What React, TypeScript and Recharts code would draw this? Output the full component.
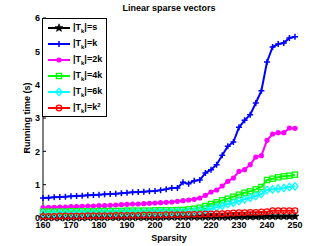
import React from 'react';
import { LineChart, Line, XAxis, YAxis, Label } from 'recharts';

const sparsity = [
  160, 162, 164, 166, 168, 170, 172, 174, 176, 178, 180, 182, 184, 186, 188, 190,
  192, 194, 196, 198, 200, 202, 204, 206, 208, 210, 212, 214, 216, 218, 220, 222,
  224, 226, 228, 230, 232, 234, 236, 238, 240, 242, 244, 246, 248, 250,
];

// |T_k| = s
const timeS = [
  0.01, 0.01, 0.01, 0.01, 0.01, 0.01, 0.01, 0.01, 0.02, 0.02, 0.02, 0.02, 0.02, 0.02, 0.02, 0.02,
  0.02, 0.02, 0.02, 0.02, 0.02, 0.02, 0.03, 0.03, 0.03, 0.03, 0.03, 0.03, 0.03, 0.03, 0.03, 0.03,
  0.03, 0.03, 0.04, 0.04, 0.04, 0.04, 0.04, 0.04, 0.05, 0.05, 0.05, 0.05, 0.05, 0.05,
];
// |T_k| = k
const timeK = [
  0.60, 0.61, 0.62, 0.63, 0.64, 0.65, 0.66, 0.67, 0.68, 0.69, 0.70, 0.71, 0.72, 0.73, 0.74, 0.76,
  0.77, 0.78, 0.79, 0.80, 0.81, 0.83, 0.86, 0.90, 0.90, 1.07, 1.03, 1.12, 1.14, 1.35, 1.45, 1.60,
  1.88, 2.15, 2.28, 2.72, 2.93, 3.10, 3.45, 3.82, 4.68, 5.13, 5.22, 5.25, 5.40, 5.44,
];
// |T_k| = 2k
const time2K = [
  0.31, 0.32, 0.32, 0.33, 0.33, 0.34, 0.34, 0.35, 0.36, 0.36, 0.37, 0.37, 0.38, 0.39, 0.40, 0.41,
  0.42, 0.42, 0.43, 0.44, 0.45, 0.46, 0.47, 0.48, 0.50, 0.52, 0.54, 0.56, 0.60, 0.68, 0.78, 0.84,
  0.96, 1.10, 1.20, 1.40, 1.45, 1.60, 1.83, 1.87, 2.33, 2.52, 2.56, 2.56, 2.70, 2.69,
];
// |T_k| = 4k
const time4K = [
  0.19, 0.19, 0.19, 0.19, 0.19, 0.20, 0.20, 0.20, 0.20, 0.20, 0.21, 0.21, 0.21, 0.21, 0.21, 0.22,
  0.22, 0.22, 0.22, 0.22, 0.23, 0.23, 0.23, 0.23, 0.24, 0.24, 0.26, 0.28, 0.31, 0.36, 0.42, 0.47,
  0.53, 0.58, 0.64, 0.70, 0.76, 0.80, 0.86, 0.93, 1.14, 1.18, 1.22, 1.25, 1.27, 1.30,
];
// |T_k| = 6k
const time6K = [
  0.13, 0.13, 0.13, 0.14, 0.14, 0.14, 0.14, 0.14, 0.15, 0.15, 0.15, 0.15, 0.15, 0.15, 0.16, 0.16,
  0.16, 0.16, 0.16, 0.16, 0.17, 0.17, 0.17, 0.17, 0.18, 0.18, 0.19, 0.20, 0.22, 0.25, 0.28, 0.32,
  0.37, 0.42, 0.46, 0.51, 0.56, 0.61, 0.66, 0.72, 0.84, 0.86, 0.88, 0.90, 0.93, 0.95,
];
// |T_k| = k^2
const timeK2 = [
  0.05, 0.05, 0.05, 0.06, 0.06, 0.06, 0.06, 0.06, 0.07, 0.07, 0.07, 0.07, 0.07, 0.08, 0.08, 0.08,
  0.08, 0.08, 0.09, 0.09, 0.09, 0.09, 0.10, 0.10, 0.10, 0.10, 0.11, 0.11, 0.11, 0.12, 0.12, 0.13,
  0.13, 0.14, 0.15, 0.16, 0.16, 0.17, 0.17, 0.18, 0.19, 0.22, 0.22, 0.22, 0.22, 0.22,
];

const xTicks = [160, 170, 180, 190, 200, 210, 220, 230, 240, 250];
const yTicks = [0, 1, 2, 3, 4, 5, 6];

const data = sparsity.map((s, i) => ({
  s,
  ts: timeS[i],
  tk: timeK[i],
  t2k: time2K[i],
  t4k: time4K[i],
  t6k: time6K[i],
  tk2: timeK2[i],
}));

const font = '"Liberation Sans", Arial, Helvetica, sans-serif';

type MarkerProps = { cx: number; cy: number; color: string };

const Star = ({ cx, cy, color }: MarkerProps) => {
  const pts: string[] = [];
  for (let i = 0; i < 10; i++) {
    const r = i % 2 === 0 ? 4.2 : 1.8;
    const a = -Math.PI / 2 + (i * Math.PI) / 5;
    pts.push(`${cx + r * Math.cos(a)},${cy + r * Math.sin(a)}`);
  }
  return <polygon points={pts.join(' ')} fill={color} stroke={color} strokeWidth={0.6} />;
};
const Plus = ({ cx, cy, color }: MarkerProps) => (
  <path d={`M${cx - 3},${cy}H${cx + 3}M${cx},${cy - 3}V${cy + 3}`} stroke={color} strokeWidth={1.5} fill="none" />
);
const Dot = ({ cx, cy, color }: MarkerProps) => <circle cx={cx} cy={cy} r={2.6} fill={color} />;
const Square = ({ cx, cy, color }: MarkerProps) => (
  <rect x={cx - 2.6} y={cy - 2.6} width={5.2} height={5.2} fill="none" stroke={color} strokeWidth={1.3} />
);
const Diamond = ({ cx, cy, color }: MarkerProps) => (
  <path d={`M${cx},${cy - 3.8}L${cx + 3},${cy}L${cx},${cy + 3.8}L${cx - 3},${cy}Z`} fill="none" stroke={color} strokeWidth={1.3} />
);
const Ring = ({ cx, cy, color }: MarkerProps) => (
  <circle cx={cx} cy={cy} r={2.8} fill="none" stroke={color} strokeWidth={1.3} />
);

const series = [
  { key: 'ts', color: '#000000', Marker: Star, rhs: 's', sup: '' },
  { key: 'tk', color: '#0000ff', Marker: Plus, rhs: 'k', sup: '' },
  { key: 't2k', color: '#ff00ff', Marker: Dot, rhs: '2k', sup: '' },
  { key: 't4k', color: '#00ff00', Marker: Square, rhs: '4k', sup: '' },
  { key: 't6k', color: '#00ffff', Marker: Diamond, rhs: '6k', sup: '' },
  { key: 'tk2', color: '#ff0000', Marker: Ring, rhs: 'k', sup: '2' },
];

const LegendBox = () => (
  <div
    style={{
      position: 'absolute',
      left: 42,
      top: 18,
      width: 65,
      height: 99,
      boxSizing: 'border-box',
      border: '1px solid #000',
      background: '#fff',
      paddingTop: 1,
      fontFamily: font,
      fontWeight: 'bold',
      fontSize: 9,
      color: '#000',
    }}
  >
    {series.map(({ key, color, Marker, rhs, sup }) => (
      <div key={key} style={{ height: 16, display: 'flex', alignItems: 'center' }}>
        <svg width={30} height={16} style={{ display: 'block' }}>
          <line x1={5} x2={27} y1={8} y2={8} stroke={color} strokeWidth={2} />
          <Marker cx={16} cy={8} color={color} />
        </svg>
        <span style={{ whiteSpace: 'nowrap', lineHeight: '9px' }}>
          |T<span style={{ fontSize: 6, position: 'relative', top: 3 }}>k</span>|={rhs}
          {sup && <span style={{ fontSize: 6, position: 'relative', top: -3 }}>{sup}</span>}
        </span>
      </div>
    ))}
  </div>
);

const tickStyle = { fill: '#000', fontSize: 9, fontWeight: 'bold', fontFamily: font };

export default function App() {
  return (
    <div style={{ position: 'absolute', left: 0, top: 0, width: 327, height: 246, background: '#fff' }}>
      <div
        style={{
          position: 'absolute',
          left: 43,
          width: 252,
          top: 3,
          textAlign: 'center',
          fontFamily: font,
          fontWeight: 'bold',
          fontSize: 9,
          lineHeight: '11px',
          color: '#000',
        }}
      >
        Linear sparse vectors
      </div>
      <LineChart
        width={327}
        height={246}
        data={data}
        margin={{ top: 18, right: 32, left: 0, bottom: 0 }}
      >
        <XAxis
          dataKey="s"
          type="number"
          domain={[160, 250]}
          ticks={xTicks}
          height={28}
          tickSize={-3}
          tickMargin={7}
          tick={tickStyle}
          axisLine={{ stroke: '#000' }}
          tickLine={{ stroke: '#000' }}
          interval={0}
        >
          <Label
            value="Sparsity"
            position="insideBottom"
            offset={5}
            style={{ fill: '#000', fontSize: 9, fontWeight: 'bold', fontFamily: font }}
          />
        </XAxis>
        <XAxis
          xAxisId="top"
          orientation="top"
          dataKey="s"
          type="number"
          domain={[160, 250]}
          ticks={xTicks}
          height={0}
          tickSize={-3}
          tick={false}
          axisLine={{ stroke: '#000' }}
          tickLine={{ stroke: '#000' }}
          interval={0}
        />
        <YAxis
          type="number"
          domain={[0, 6]}
          ticks={yTicks}
          width={43}
          tickSize={-3}
          tickMargin={6}
          tick={tickStyle}
          axisLine={{ stroke: '#000' }}
          tickLine={{ stroke: '#000' }}
          interval={0}
        >
          <Label
            value="Running time (s)"
            angle={-90}
            position="insideLeft"
            offset={27}
            style={{ textAnchor: 'middle', fill: '#000', fontSize: 9, fontWeight: 'bold', fontFamily: font }}
          />
        </YAxis>
        <YAxis
          yAxisId="right"
          orientation="right"
          type="number"
          domain={[0, 6]}
          ticks={yTicks}
          width={0}
          tickSize={-3}
          tick={false}
          axisLine={{ stroke: '#000' }}
          tickLine={{ stroke: '#000' }}
          interval={0}
        />
        {series.map(({ key, color, Marker }) => (
          <Line
            key={key}
            dataKey={key}
            stroke={color}
            strokeWidth={2}
            isAnimationActive={false}
            dot={(p: any) => <Marker key={`${key}-${p.index}`} cx={p.cx} cy={p.cy} color={color} />}
            activeDot={false}
          />
        ))}
      </LineChart>
      <LegendBox />
    </div>
  );
}
